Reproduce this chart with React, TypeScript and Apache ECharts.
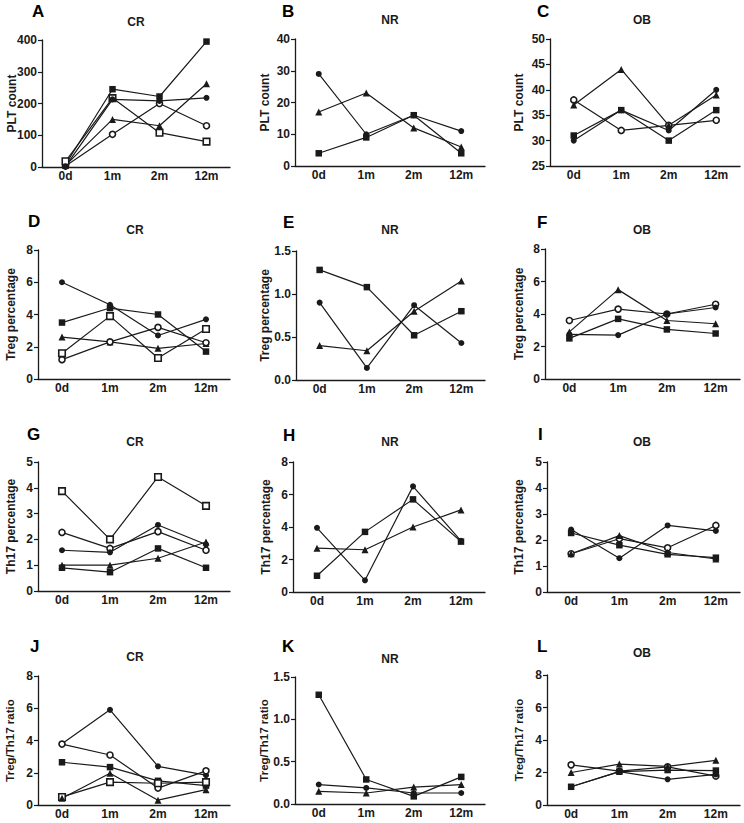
import React, { useEffect, useRef } from "react";
import * as echarts from "echarts";

const categories = ["0d", "1m", "2m", "12m"];

// A: CR PLT count
const a_fCircle = [2, 213, 208, 218];
const a_fSquare = [8, 245, 222, 395];
const a_triangle = [5, 150, 130, 262];
const a_oCircle = [3, 103, 200, 130];
const a_oSquare = [18, 217, 108, 80];
// B: NR PLT count
const b_fCircle = [29, 10, 16, 11];
const b_triangle = [17, 23, 12, 6];
const b_fSquare = [4, 9, 16, 4];
// C: OB PLT count
const c_oCircle = [38, 32, 33, 34];
const c_triangle = [37, 44, 33, 39];
const c_fCircle = [30, 36, 32, 40];
const c_fSquare = [31, 36, 30, 36];
// D: CR Treg
const d_fCircle = [6.0, 4.6, 2.7, 3.7];
const d_fSquare = [3.5, 4.4, 4.0, 1.7];
const d_triangle = [2.6, 2.3, 1.9, 2.2];
const d_oCircle = [1.2, 2.3, 3.2, 2.25];
const d_oSquare = [1.6, 3.9, 1.3, 3.1];
// E: NR Treg
const e_fSquare = [1.28, 1.08, 0.52, 0.8];
const e_fCircle = [0.9, 0.14, 0.87, 0.43];
const e_triangle = [0.4, 0.34, 0.8, 1.15];
// F: OB Treg
const f_oCircle = [3.6, 4.3, 4.0, 4.6];
const f_triangle = [2.9, 5.5, 3.6, 3.4];
const f_fSquare = [2.5, 3.7, 3.05, 2.8];
const f_fCircle = [2.75, 2.7, 4.0, 4.4];
// G: CR Th17
const g_oSquare = [3.87, 2.0, 4.42, 3.3];
const g_oCircle = [2.27, 1.65, 2.3, 1.58];
const g_fCircle = [1.58, 1.5, 2.56, 1.8];
const g_triangle = [1.0, 1.0, 1.27, 1.9];
const g_fSquare = [0.9, 0.73, 1.65, 0.9];
// H: NR Th17
const h_fCircle = [3.95, 0.72, 6.5, 3.15];
const h_fSquare = [1.0, 3.7, 5.7, 3.1];
const h_triangle = [2.7, 2.6, 4.0, 5.05];
// I: OB Th17
const i_fCircle = [2.4, 1.3, 2.56, 2.35];
const i_fSquare = [2.27, 1.8, 1.45, 1.32];
const i_triangle = [1.47, 2.17, 1.52, 1.27];
const i_oCircle = [1.47, 2.05, 1.7, 2.56];
// J: CR ratio
const j_fCircle = [3.8, 5.9, 2.4, 1.85];
const j_oCircle = [3.78, 3.1, 1.05, 2.12];
const j_fSquare = [2.65, 2.35, 1.5, 1.2];
const j_oSquare = [0.5, 1.42, 1.35, 1.42];
const j_triangle = [0.42, 1.97, 0.3, 0.95];
// K: NR ratio
const k_fSquare = [1.29, 0.29, 0.09, 0.32];
const k_fCircle = [0.23, 0.19, 0.13, 0.13];
const k_triangle = [0.15, 0.13, 0.2, 0.23];
// L: OB ratio
const l_oCircle = [2.47, 2.08, 2.35, 1.78];
const l_triangle = [2.0, 2.52, 2.38, 2.75];
const l_fSquare = [1.12, 2.05, 2.15, 2.12];
const l_fCircle = [1.12, 2.05, 1.58, 1.88];

type Marker = "fc" | "fs" | "ft" | "oc" | "os";

const panels = [
  { letter: "A", title: "CR", yLabel: "PLT count", min: 0, max: 400, step: 100, dec: 0,
    g: [42, 40, 188, 127], lx: 12, letterPos: [32, 11.5], titlePos: [136, 21.5],
    s: [["fs", a_fSquare], ["ft", a_triangle], ["oc", a_oCircle], ["os", a_oSquare], ["fc", a_fCircle]] },
  { letter: "B", title: "NR", yLabel: "PLT count", min: 0, max: 40, step: 10, dec: 0,
    g: [295, 39, 190, 127], lx: 265, letterPos: [282, 11.5], titlePos: [390, 20],
    s: [["fc", b_fCircle], ["ft", b_triangle], ["fs", b_fSquare]] },
  { letter: "C", title: "OB", yLabel: "PLT count", min: 25, max: 50, step: 5, dec: 0,
    g: [550, 39, 190, 127], lx: 519, letterPos: [537, 11], titlePos: [642, 20],
    s: [["oc", c_oCircle], ["ft", c_triangle], ["fc", c_fCircle], ["fs", c_fSquare]] },
  { letter: "D", title: "CR", yLabel: "Treg percentage", min: 0, max: 8, step: 2, dec: 0,
    g: [38, 250, 192, 129], lx: 11, letterPos: [28, 221.5], titlePos: [135, 230],
    s: [["fc", d_fCircle], ["fs", d_fSquare], ["ft", d_triangle], ["oc", d_oCircle], ["os", d_oSquare]] },
  { letter: "E", title: "NR", yLabel: "Treg percentage", min: 0, max: 1.5, step: 0.5, dec: 1,
    g: [296, 251, 189, 129], lx: 265, letterPos: [283, 222], titlePos: [390, 230],
    s: [["fs", e_fSquare], ["fc", e_fCircle], ["ft", e_triangle]] },
  { letter: "F", title: "OB", yLabel: "Treg percentage", min: 0, max: 8, step: 2, dec: 0,
    g: [545, 249, 195, 130], lx: 519, letterPos: [537, 222], titlePos: [642, 230],
    s: [["oc", f_oCircle], ["ft", f_triangle], ["fs", f_fSquare], ["fc", f_fCircle]] },
  { letter: "G", title: "CR", yLabel: "Th17 percentage", min: 0, max: 5, step: 1, dec: 0,
    g: [38, 462, 192, 129], lx: 11, letterPos: [27, 434], titlePos: [135, 442],
    s: [["os", g_oSquare], ["oc", g_oCircle], ["fc", g_fCircle], ["ft", g_triangle], ["fs", g_fSquare]] },
  { letter: "H", title: "NR", yLabel: "Th17 percentage", min: 0, max: 8, step: 2, dec: 0,
    g: [293, 462, 192, 130], lx: 266, letterPos: [283, 435], titlePos: [390, 442],
    s: [["fc", h_fCircle], ["fs", h_fSquare], ["ft", h_triangle]] },
  { letter: "I", title: "OB", yLabel: "Th17 percentage", min: 0, max: 5, step: 1, dec: 0,
    g: [547, 462, 193, 130], lx: 519, letterPos: [538, 434], titlePos: [642, 442],
    s: [["oc", i_oCircle], ["ft", i_triangle], ["fs", i_fSquare], ["fc", i_fCircle]] },
  { letter: "J", title: "CR", yLabel: "Treg/Th17 ratio", min: 0, max: 8, step: 2, dec: 0,
    g: [38, 676, 192, 129], lx: 10, letterPos: [30, 646], titlePos: [135, 657],
    s: [["fc", j_fCircle], ["oc", j_oCircle], ["fs", j_fSquare], ["os", j_oSquare], ["ft", j_triangle]] },
  { letter: "K", title: "NR", yLabel: "Treg/Th17 ratio", min: 0, max: 1.5, step: 0.5, dec: 1,
    g: [295, 677, 190, 127], lx: 264, letterPos: [282, 646], titlePos: [390, 659],
    s: [["fs", k_fSquare], ["fc", k_fCircle], ["ft", k_triangle]] },
  { letter: "L", title: "OB", yLabel: "Treg/Th17 ratio", min: 0, max: 8, step: 2, dec: 0,
    g: [547, 675, 193, 130], lx: 519, letterPos: [537, 646], titlePos: [642, 653],
    s: [["oc", l_oCircle], ["ft", l_triangle], ["fs", l_fSquare], ["fc", l_fCircle]] },
];

const FONT = "'Liberation Sans', Arial, Helvetica, sans-serif";
const INK = "#1a1a1a";

function markerStyle(m: Marker) {
  switch (m) {
    case "fc":
      return { symbol: "circle", symbolSize: 6, itemStyle: { color: INK } };
    case "fs":
      return { symbol: "rect", symbolSize: 6.5, itemStyle: { color: INK } };
    case "ft":
      return { symbol: "triangle", symbolSize: 7, itemStyle: { color: INK } };
    case "oc":
      return { symbol: "circle", symbolSize: 6, itemStyle: { color: "#fff", borderColor: INK, borderWidth: 1.6 } };
    default:
      return { symbol: "rect", symbolSize: 6.5, itemStyle: { color: "#fff", borderColor: INK, borderWidth: 1.6 } };
  }
}

export default function App() {
  const ref = useRef<HTMLDivElement>(null);
  useEffect(() => {
    if (!ref.current) return;
    const chart = echarts.init(ref.current, undefined, { renderer: "svg" });
    const grid: any[] = [];
    const xAxis: any[] = [];
    const yAxis: any[] = [];
    const series: any[] = [];
    const graphic: any[] = [];
    panels.forEach((p, i) => {
      grid.push({ left: p.g[0], top: p.g[1], width: p.g[2], height: p.g[3], containLabel: false });
      xAxis.push({
        type: "category",
        gridIndex: i,
        data: categories,
        boundaryGap: true,
        axisLine: { lineStyle: { color: INK, width: 1.3 } },
        axisTick: { show: false },
        axisLabel: { color: INK, fontSize: 12, fontWeight: "bold", fontFamily: FONT, margin: 3, interval: 0 },
        splitLine: { show: false },
      });
      yAxis.push({
        type: "value",
        gridIndex: i,
        min: p.min,
        max: p.max,
        interval: p.step,
        axisLine: { show: true, lineStyle: { color: INK, width: 1.3 } },
        axisTick: { show: true, length: 4, lineStyle: { color: INK, width: 1.2 } },
        axisLabel: {
          color: INK, fontSize: 12, fontWeight: "bold", fontFamily: FONT, margin: 5,
          formatter: (v: number) => v.toFixed(p.dec),
        },
        splitLine: { show: false },
      });
      p.s.forEach(([m, data]: any) => {
        series.push({
          type: "line",
          xAxisIndex: i,
          yAxisIndex: i,
          data,
          ...markerStyle(m as Marker),
          lineStyle: { color: INK, width: 1.2 },
          z: 3,
        });
      });
      const cy = p.g[1] + p.g[3] / 2;
      graphic.push({
        type: "text",
        x: p.lx,
        y: cy,
        rotation: Math.PI / 2,
        style: {
          text: p.yLabel, fill: INK,
          font: `bold ${p.yLabel.includes("ratio") ? 11.5 : 12}px ${FONT}`,
          align: "center", verticalAlign: "middle",
          textAlign: "center", textVerticalAlign: "middle",
        },
      });
      graphic.push({
        type: "text",
        x: p.letterPos[0],
        y: p.letterPos[1],
        style: {
          text: p.letter, fill: "#000", font: `bold 17px ${FONT}`,
          align: "left", verticalAlign: "middle", textAlign: "left", textVerticalAlign: "middle",
        },
      });
      graphic.push({
        type: "text",
        x: p.titlePos[0],
        y: p.titlePos[1],
        style: {
          text: p.title, fill: INK, font: `bold 12px ${FONT}`,
          align: "center", verticalAlign: "middle", textAlign: "center", textVerticalAlign: "middle",
        },
      });
    });
    chart.setOption({
      animation: false,
      backgroundColor: "#fff",
      grid,
      xAxis,
      yAxis,
      series,
      graphic,
    });
    return () => chart.dispose();
  }, []);
  return (
    <div
      ref={ref}
      style={{ position: "fixed", left: 0, top: 0, width: 744, height: 823, background: "#fff" }}
    />
  );
}
